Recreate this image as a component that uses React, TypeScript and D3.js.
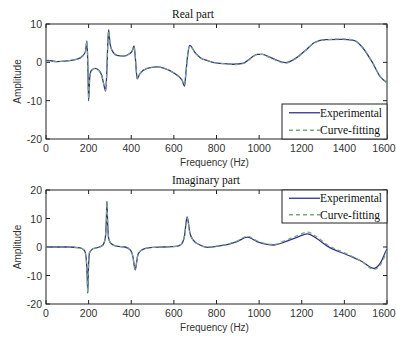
import * as d3 from 'd3'

// Real part (Hz, amplitude)
const realFreq = [0, 10, 50, 100, 150, 170, 185, 192, 196, 200, 205, 212, 230, 250, 262, 272, 280, 285, 290, 294, 300, 310, 333, 363, 390, 405, 413, 418, 425, 428, 440, 474, 520, 552, 600, 638, 650, 656, 665, 674, 700, 724, 760, 802, 850, 880, 927, 959, 990, 1015, 1040, 1076, 1123, 1170, 1217, 1264, 1311, 1389, 1444, 1483, 1530, 1569, 1600]
const realExp = [0.2, 0.5, 0.2, 0.4, 0.9, 1.6, 2.8, 5.6, 0, -10, -4, -2.2, -1.6, -2.2, -3.5, -6, -7.5, -3, 5, 8.5, 5, 3.1, 1.8, 1.6, 2.2, 3, 4.3, 2, -3, -4.3, -3, -1.6, -1.2, -1.5, -2.8, -4.6, -6.2, -3, 2, 4.4, 2.5, 1.2, 0.4, -0.2, -0.4, -0.5, -0.2, 1, 2.1, 2.1, 1.6, 0.7, -0.1, 1, 3.1, 5.3, 5.9, 6, 5.7, 4, 0.1, -3.8, -5.3]
const realFit = [0.1, 0.3, 0.2, 0.4, 0.9, 1.5, 2.7, 5.4, 0, -9.6, -4, -2.2, -1.6, -2.3, -3.5, -6, -7.3, -3, 5, 8.2, 5, 3.1, 1.8, 1.6, 2.2, 3, 4.2, 2, -3, -4.2, -3, -1.6, -1.2, -1.5, -2.8, -4.6, -6, -3, 2, 4.3, 2.5, 1.2, 0.4, -0.2, -0.4, -0.6, -0.3, 0.9, 2, 2.1, 1.5, 0.6, -0.2, 0.9, 3, 5.2, 5.8, 6.1, 5.8, 4.1, 0.2, -3.7, -5.4]

// Imaginary part (Hz, amplitude)
const imagFreq = [0, 100, 160, 180, 188, 193, 196, 199, 204, 220, 250, 268, 278, 283, 286, 289, 294, 305, 330, 370, 395, 408, 415, 419, 424, 432, 450, 480, 550, 610, 635, 650, 658, 662, 667, 675, 690, 720, 757, 800, 849, 896, 945, 990, 1037, 1070, 1120, 1180, 1226, 1270, 1320, 1414, 1480, 1539, 1570, 1594, 1600]
const imagExp = [0, 0, -0.3, -1.2, -3.5, -10, -16.2, -8, -2, -0.6, 0, 0.8, 3, 9, 16, 9, 3, 1.2, 0.3, 0, -1, -3.5, -7, -8, -6, -2.5, -1, -0.3, 0, 0.2, 1, 4, 9, 10.6, 9, 5, 2.5, 0.8, -0.1, 0.2, 0.8, 1.9, 3.5, 1.9, 0.9, 0.7, 1.8, 3.5, 4.6, 3, 0.3, -2.8, -5, -7.5, -5.5, -1.6, -0.8]
const imagFit = [0, 0, -0.3, -1.1, -3.4, -9.8, -15.8, -8, -2, -0.6, 0, 0.8, 3, 8.8, 15.6, 9, 3, 1.2, 0.3, 0, -1, -3.4, -6.8, -7.8, -6, -2.5, -1, -0.3, 0, 0.2, 1, 4, 8.8, 10.3, 8.8, 5, 2.5, 0.8, 0, 0.3, 1, 2.1, 3.8, 2.2, 1.1, 0.9, 2.2, 4, 5.2, 3.6, 0.8, -2.5, -5, -7.9, -6.2, -2.4, -1.2]

const xTicks = [0, 200, 400, 600, 800, 1000, 1200, 1400, 1600]
const realTicks = [-20, -10, 0, 10]
const imagTicks = [-20, -10, 0, 10, 20]
const legendLabels = ['Experimental', 'Curve-fitting']

const LEFT = 46
const RIGHT = 387
const EXP_COLOR = '#33338f'
const FIT_COLOR = '#7aa87a'
const SANS = 'Arial, "Liberation Sans", sans-serif'
const SERIF = '"Liberation Serif", "Times New Roman", serif'

type PanelProps = {
  top: number
  bottom: number
  title: string
  titleX: number
  freq: number[]
  exp: number[]
  fit: number[]
  domain: [number, number]
  ticks: number[]
  legend: { x: number; y: number; w: number; h: number }
}

function Panel({ top, bottom, title, titleX, freq, exp, fit, domain, ticks, legend }: PanelProps) {
  const x = d3.scaleLinear().domain([0, 1600]).range([LEFT, RIGHT])
  const y = d3.scaleLinear().domain(domain).range([bottom, top])
  const line = d3.line<number>().x((_, i) => x(freq[i])).y(d => y(d)).curve(d3.curveMonotoneX)
  const tl = 4
  return (
    <g>
      <text x={titleX} y={top - 6} textAnchor="middle" fontFamily={SERIF} fontSize={11.5} fill="#111">{title}</text>
      <rect x={LEFT} y={top} width={RIGHT - LEFT} height={bottom - top} fill="white" stroke="#222" strokeWidth={1} />
      {xTicks.map(t => (
        <g key={'x' + t}>
          <line x1={x(t)} x2={x(t)} y1={bottom} y2={bottom - tl} stroke="#222" />
          <line x1={x(t)} x2={x(t)} y1={top} y2={top + tl} stroke="#222" />
          <text x={x(t) - (t === 1600 ? 3 : 0)} y={bottom + 13} textAnchor="middle" fontFamily={SANS} fontSize={10.5} fill="#333">{t}</text>
        </g>
      ))}
      {ticks.map(t => (
        <g key={'y' + t}>
          <line x1={LEFT} x2={LEFT + tl} y1={y(t)} y2={y(t)} stroke="#222" />
          <line x1={RIGHT} x2={RIGHT - tl} y1={y(t)} y2={y(t)} stroke="#222" />
          <text x={LEFT - 4} y={y(t) + 4} textAnchor="end" fontFamily={SANS} fontSize={10.5} fill="#333">{t}</text>
        </g>
      ))}
      <path d={line(exp) ?? ''} fill="none" stroke={EXP_COLOR} strokeWidth={1.3} />
      <path d={line(fit) ?? ''} fill="none" stroke={FIT_COLOR} strokeWidth={1.2} strokeDasharray="4,3" />
      <text x={(LEFT + RIGHT) / 2 - 2} y={bottom + 27} textAnchor="middle" fontFamily={SANS} fontSize={10} fill="#333">Frequency (Hz)</text>
      <text transform={`translate(21,${(top + bottom) / 2}) rotate(-90)`} textAnchor="middle" fontFamily={SANS} fontSize={10} fill="#333">Amplitude</text>
      <rect x={legend.x} y={legend.y} width={legend.w} height={legend.h} fill="white" stroke="#222" />
      {legendLabels.map((lab, i) => {
        const ly = legend.y + legend.h * (i === 0 ? 0.25 : 0.75)
        return (
          <g key={lab}>
            <line x1={legend.x + 7} x2={legend.x + 38} y1={ly} y2={ly}
              stroke={i === 0 ? EXP_COLOR : FIT_COLOR} strokeWidth={1.3}
              strokeDasharray={i === 0 ? undefined : '4,3'} />
            <text x={legend.x + 38} y={ly + 4} fontFamily={SERIF} fontSize={11.5} fill="#111">{lab}</text>
          </g>
        )
      })}
    </g>
  )
}

export default function App() {
  return (
    <div style={{ position: 'absolute', left: 0, top: 0, background: 'white' }}>
      <svg width={397} height={337} style={{ display: 'block' }}>
        <rect width={397} height={337} fill="white" />
        <Panel top={24} bottom={139} title="Real part" titleX={193}
          freq={realFreq} exp={realExp} fit={realFit} domain={[-20, 10]} ticks={realTicks}
          legend={{ x: 282, y: 104, w: 105, h: 35 }} />
        <Panel top={190} bottom={304} title="Imaginary part" titleX={206}
          freq={imagFreq} exp={imagExp} fit={imagFit} domain={[-20, 20]} ticks={imagTicks}
          legend={{ x: 282, y: 190, w: 105, h: 33 }} />
      </svg>
    </div>
  )
}
